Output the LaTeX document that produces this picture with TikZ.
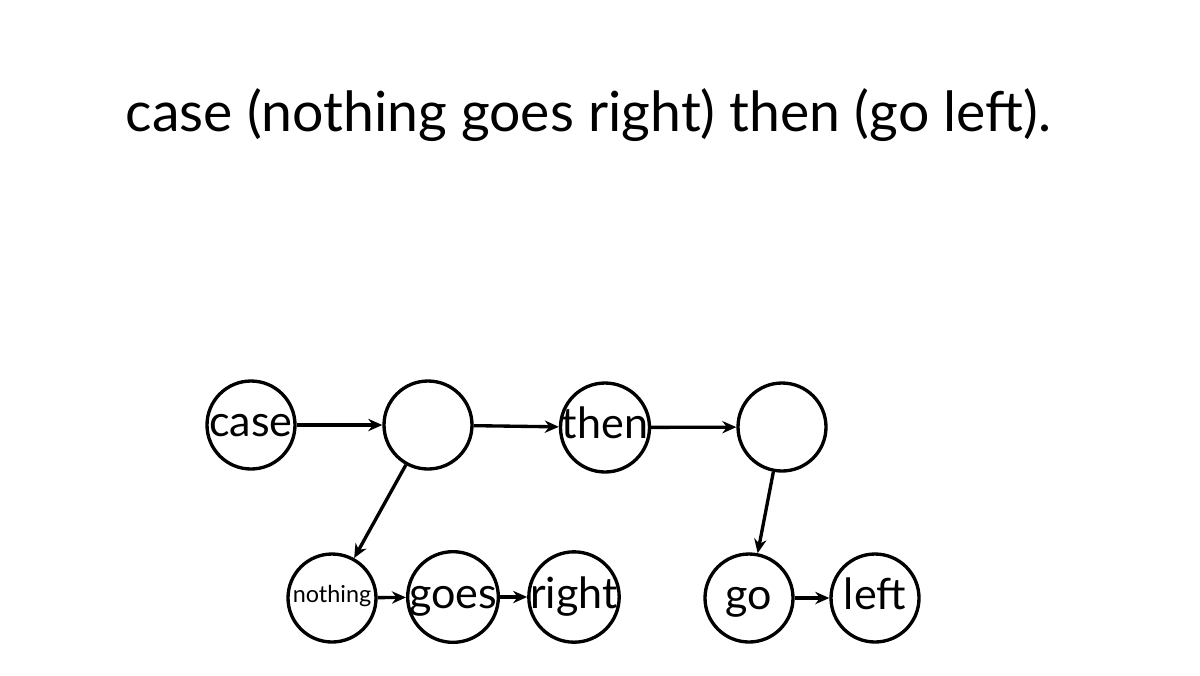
\documentclass[tikz,border=0pt]{standalone}
\usepackage{fontspec}
\setmainfont{Lato}
\usetikzlibrary{arrows.meta}
\tikzset{word/.style={circle, draw, line width=1.9pt, minimum size=1.76cm, inner sep=0pt, text height=13pt, text depth=0pt, font=\fontsize{24.5}{26}\selectfont},
	link/.style={-{Stealth[length=8pt,width=7pt]}, line width=1.9pt}}

\begin{document}
\begin{tikzpicture}
			\useasboundingbox (0,0) rectangle (24,-13.5);
			% Define title
			\node[font=\fontsize{31.5}{34}\selectfont] (title) at (11.77,-2.3) {case (nothing goes right) then (go left).};
			
			% Define vertices
			\node[word] (case) at (5.02,-8.5) {case};
			\node[word] (B) at (8.56,-8.5) {};
			\node[word] (then) at (12.1,-8.55) {then};
			\node[word] (D) at (15.64,-8.54) {};
			\node[word, font=\fontsize{13.3}{15}\selectfont, text height=5.6pt] (nothing) at (6.64,-11.96) {nothing};
			\node[word] (goes) at (9.06,-11.94) {goes};
			\node[word] (right) at (11.48,-11.94) {right};
			\node[word] (go) at (14.98,-11.96) {go};
			\node[word] (left) at (17.5,-11.96) {left};
			
			% Draw edges
			\draw[link] (case) -- (B);
			\draw[link] (B) -- (then);
			\draw[link] (then) -- (D);
			\draw[link] (B) -- (nothing);
			\draw[link] (D) -- (go);
			\draw[link] (nothing) -- (goes);
			\draw[link] (goes) -- (right);
			\draw[link] (go) -- (left);
		\end{tikzpicture}
\end{document}
